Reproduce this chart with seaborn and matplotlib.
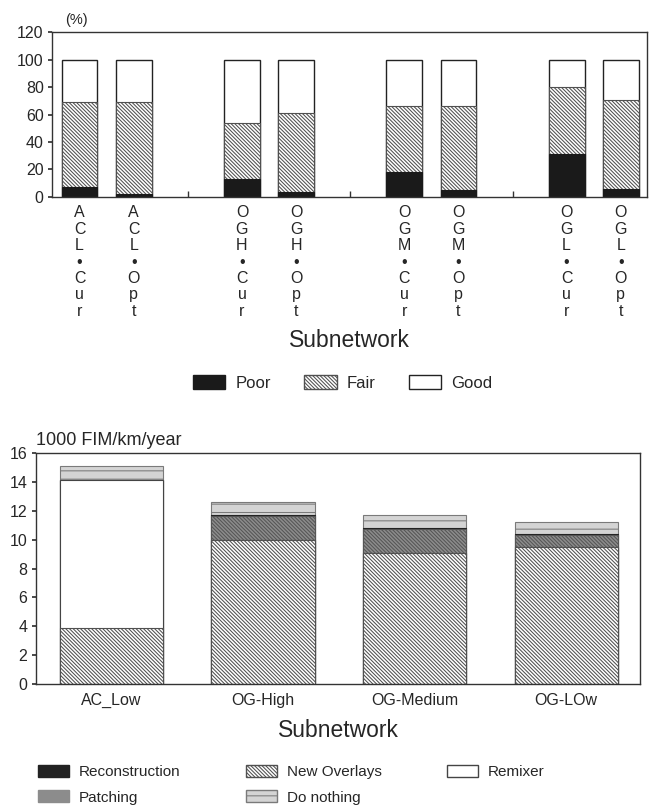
import numpy as np
import pandas as pd
import matplotlib
matplotlib.use("Agg")
import matplotlib.pyplot as plt
from matplotlib.patches import Patch
import seaborn as sns

# ---------------- data ----------------
top_subnets = ['ACL-Cur', 'ACL-Opt', 'OGH-Cur', 'OGH-Opt',
               'OGM-Cur', 'OGM-Opt', 'OGL-Cur', 'OGL-Opt']
top_ticklabels = ['ACL•Cur', 'ACL•Opt', 'OGH•Cur', 'OGH•Opt',
                  'OGM•Cur', 'OGM•Opt', 'OGL•Cur', 'OGL•Opt']
poor = [7, 2, 13, 3.5, 18, 5, 31, 5.5]
fair = [62, 67, 41, 57.5, 48, 61.5, 49, 65]
good = [31, 31, 46, 39, 34, 33.5, 20, 29.5]
top_order = ['ACL-Cur', 'ACL-Opt', 'gap1', 'OGH-Cur', 'OGH-Opt', 'gap2',
             'OGM-Cur', 'OGM-Opt', 'gap3', 'OGL-Cur', 'OGL-Opt']

bottom_subnets = ['AC_Low', 'OG-High', 'OG-Medium', 'OG-LOw']
new_overlays = [3.9, 10.0, 9.1, 9.5]
remixer = [10.2, 0.0, 0.0, 0.0]
patching = [0.0, 1.6, 1.6, 0.8]
reconstruction = [0.0, 0.1, 0.1, 0.1]
do_nothing = [1.0, 0.9, 0.9, 0.8]

# ---------------- style ----------------
sns.set_theme(style="white")
plt.rcParams['font.family'] = ['Liberation Sans', 'DejaVu Sans']
plt.rcParams['hatch.linewidth'] = 0.75
plt.rcParams['axes.edgecolor'] = '#333333'
plt.rcParams['axes.linewidth'] = 1.0

HATCH = '\\' * 9

fig = plt.figure(figsize=(6.5, 8.07), dpi=100)
fig.patch.set_facecolor('white')

# ---------------- top chart ----------------
ax1 = fig.add_axes([0.08, 0.756, 0.915, 0.204])
dtop = pd.DataFrame({'subnet': top_subnets,
                     'poor': poor, 'fair': fair, 'good': good})
dtop['c_fair'] = dtop['poor'] + dtop['fair']
dtop['c_good'] = dtop['c_fair'] + dtop['good']

w1 = 0.66
sns.barplot(data=dtop, x='subnet', y='c_good', order=top_order, ax=ax1,
            width=w1, color='white', edgecolor='#222222', linewidth=1.0,
            errorbar=None, saturation=1)
sns.barplot(data=dtop, x='subnet', y='c_fair', order=top_order, ax=ax1,
            width=w1, color='white', edgecolor='#505050', linewidth=0.8,
            hatch=HATCH, errorbar=None, saturation=1)
sns.barplot(data=dtop, x='subnet', y='poor', order=top_order, ax=ax1,
            width=w1, color='#1a1a1a', edgecolor='#1a1a1a', linewidth=0.8,
            errorbar=None, saturation=1)

ax1.set_xlim(-0.51, 10.48)
ax1.set_ylim(0, 120)
ax1.set_yticks(np.arange(0, 121, 20))
ax1.tick_params(axis='y', labelsize=11.5, length=3, direction='out',
                left=True, color='#333333', pad=3)
pos_top = [top_order.index(s) for s in top_subnets]
ax1.set_xticks(pos_top)
ax1.set_xticklabels(['\n'.join(list(t)) for t in top_ticklabels],
                    fontsize=11.5, linespacing=1.12)
ax1.tick_params(axis='x', which='major', length=0, pad=6)
ax1.set_xticks([2, 5, 8], minor=True)
ax1.tick_params(axis='x', which='minor', direction='in', length=4,
                bottom=True, color='#333333')
ax1.set_xlabel('Subnetwork', fontsize=16.5, labelpad=7)
ax1.set_ylabel('')
ax1.text(0.022, 1.035, '(%)', transform=ax1.transAxes, fontsize=10.5,
         ha='left', va='bottom')
for s in ax1.spines.values():
    s.set_visible(True)

h_top = [Patch(facecolor='#1a1a1a', edgecolor='#1a1a1a', label='Poor'),
         Patch(facecolor='white', edgecolor='#505050', hatch=HATCH,
               label='Fair'),
         Patch(facecolor='white', edgecolor='#222222', label='Good')]
fig.legend(handles=h_top, loc='center', bbox_to_anchor=(0.527, 0.525),
           ncol=3, frameon=False, fontsize=12, handlelength=1.95,
           handleheight=0.9, columnspacing=2.0, handletextpad=0.6)

# ---------------- bottom chart ----------------
ax2 = fig.add_axes([0.055, 0.152, 0.93, 0.287])
dbot = pd.DataFrame({'subnet': bottom_subnets, 'no': new_overlays,
                     'rem': remixer, 'pat': patching,
                     'rec': reconstruction, 'dn': do_nothing})
dbot['c1'] = dbot['no']
dbot['c2'] = dbot['c1'] + dbot['rem']
dbot['c3'] = dbot['c2'] + dbot['pat']
dbot['c4'] = dbot['c3'] + dbot['rec']
dbot['c5'] = dbot['c4'] + dbot['dn']

w2 = 0.68
layers = [
    ('c5', dict(color='#d4d4d4', edgecolor='#7a7a7a', hatch='--', linewidth=0.8)),
    ('c4', dict(color='#222222', edgecolor='#222222', linewidth=0.8)),
    ('c3', dict(color='#8c8c8c', edgecolor='#555555', hatch=HATCH, linewidth=0.8)),
    ('c2', dict(color='white', edgecolor='#444444', linewidth=0.8)),
    ('c1', dict(color='white', edgecolor='#505050', hatch=HATCH, linewidth=0.8)),
]
for col, kw in layers:
    sns.barplot(data=dbot, x='subnet', y=col, order=bottom_subnets, ax=ax2,
                width=w2, errorbar=None, saturation=1, **kw)

ax2.set_xlim(-0.5, 3.49)
ax2.set_ylim(0, 16)
ax2.set_yticks(np.arange(0, 17, 2))
ax2.tick_params(axis='y', labelsize=11.5, length=3, direction='out',
                left=True, color='#333333', pad=3)
ax2.set_xticks(range(len(bottom_subnets)))
ax2.set_xticklabels(bottom_subnets, fontsize=11.5)
ax2.tick_params(axis='x', which='major', direction='in', length=4,
                bottom=True, color='#333333', pad=6)
ax2.set_xlabel('Subnetwork', fontsize=16.5, labelpad=8)
ax2.set_ylabel('')
ax2.text(0.0, 1.015, '1000 FIM/km/year', transform=ax2.transAxes,
         fontsize=13, ha='left', va='bottom')
for s in ax2.spines.values():
    s.set_visible(True)

h_bot = [Patch(facecolor='#222222', edgecolor='#222222', label='Reconstruction'),
         Patch(facecolor='#8c8c8c', edgecolor='#8c8c8c', label='Patching'),
         Patch(facecolor='white', edgecolor='#505050', hatch=HATCH,
               label='New Overlays'),
         Patch(facecolor='#d4d4d4', edgecolor='#7a7a7a', hatch='--',
               label='Do nothing'),
         Patch(facecolor='white', edgecolor='#444444', label='Remixer')]
fig.legend(handles=h_bot, loc='upper left', bbox_to_anchor=(0.038, 0.069),
           ncol=3, frameon=False, fontsize=11, handlelength=2.0,
           handleheight=0.85, columnspacing=4.3, handletextpad=0.65,
           labelspacing=0.7)

fig.savefig('out.png', dpi=100, facecolor='white')
